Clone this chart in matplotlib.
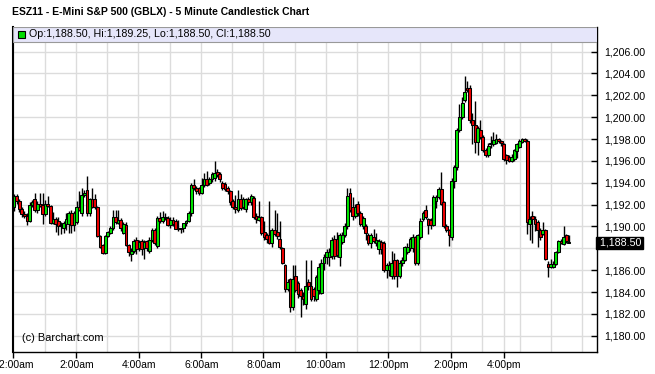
import matplotlib
matplotlib.use("Agg")
import matplotlib.pyplot as plt
from matplotlib.patches import Rectangle

plt.rcParams['font.family'] = ['Liberation Sans', 'DejaVu Sans']

title = "ESZ11 - E-Mini S&P 500 (GBLX) - 5 Minute Candlestick Chart"
legend_text = "Op:1,188.50, Hi:1,189.25, Lo:1,188.50, Cl:1,188.50"
last_price = 1188.50

opens = [1191.8, 1192.8, 1192.3, 1191.6, 1191.1, 1191.0, 1190.5, 1192.0, 1192.5, 1191.5,
         1192.1, 1192.0, 1191.1, 1192.1, 1191.9, 1190.3, 1190.7, 1190.5, 1190.0, 1189.9,
         1190.2, 1190.2, 1191.2, 1190.1, 1190.4, 1191.8, 1191.2, 1192.9, 1193.3, 1191.2,
         1192.5, 1192.5, 1191.8, 1189.1, 1188.3, 1187.6, 1189.1, 1189.4, 1189.9, 1190.9,
         1190.3, 1190.6, 1189.4, 1190.1, 1188.3, 1187.5, 1187.8, 1188.8, 1188.0, 1188.7,
         1188.0, 1188.7, 1187.8, 1188.8, 1189.7, 1188.2, 1190.8, 1190.5, 1190.9, 1190.8,
         1190.1, 1190.6, 1190.5, 1189.8, 1189.8, 1189.9, 1190.3, 1190.5, 1191.2, 1193.8,
         1193.5, 1193.5, 1193.1, 1193.8, 1194.3, 1194.0, 1194.3, 1194.4, 1195.0, 1194.8,
         1194.0, 1193.9, 1193.5, 1193.2, 1192.3, 1191.8, 1191.5, 1192.5, 1191.8, 1191.6,
         1192.5, 1192.2, 1192.6, 1191.0, 1190.6, 1190.9, 1189.5, 1189.2, 1189.2, 1188.5,
         1189.7, 1189.5, 1188.9, 1188.0, 1186.5, 1184.3, 1185.2, 1182.6, 1185.5, 1184.8,
         1184.2, 1183.6, 1182.9, 1184.9, 1184.6, 1184.3, 1183.4, 1184.2, 1183.9, 1186.7,
         1187.2, 1187.2, 1187.3, 1188.9, 1188.9, 1187.2, 1188.6, 1189.2, 1190.0, 1193.1,
         1191.8, 1191.0, 1192.1, 1191.2, 1190.0, 1190.0, 1189.2, 1188.5, 1189.0, 1188.5,
         1187.9, 1188.6, 1188.5, 1186.0, 1186.0, 1185.5, 1186.9, 1186.9, 1185.5, 1186.7,
         1186.9, 1187.7, 1188.0, 1188.0, 1189.0, 1186.7, 1189.0, 1190.7, 1191.5, 1190.7,
         1190.6, 1190.1, 1192.3, 1192.7, 1193.4, 1192.2, 1190.0, 1189.7, 1189.0, 1194.2,
         1195.4, 1198.8, 1200.0, 1201.6, 1202.7, 1202.7, 1199.7, 1199.3, 1197.7, 1198.8,
         1198.2, 1197.0, 1196.5, 1197.6, 1197.5, 1197.6, 1198.0, 1197.8, 1197.5, 1196.5,
         1196.4, 1196.0, 1196.2, 1196.9, 1197.3, 1197.7, 1198.0, 1197.8, 1190.2, 1191.0,
         1190.7, 1190.4, 1189.7, 1189.3, 1189.7, 1186.6, 1186.3, 1186.3, 1186.6, 1187.7,
         1188.7, 1188.4, 1189.2, 1188.5]
highs = [1193.0, 1193.0, 1192.5, 1191.8, 1191.4, 1191.2, 1192.2, 1192.4, 1193.1, 1192.3,
         1193.1, 1193.1, 1192.4, 1192.8, 1192.0, 1191.3, 1190.9, 1190.9, 1190.4, 1190.5,
         1191.2, 1191.4, 1191.5, 1191.4, 1192.3, 1193.2, 1193.5, 1193.3, 1194.6, 1192.6,
         1193.5, 1193.0, 1191.9, 1189.2, 1188.4, 1189.2, 1189.6, 1190.0, 1191.5, 1191.5,
         1191.5, 1190.8, 1190.4, 1190.4, 1188.4, 1188.0, 1188.9, 1189.0, 1188.8, 1188.9,
         1188.8, 1188.8, 1189.0, 1189.9, 1189.9, 1191.0, 1191.3, 1191.4, 1191.2, 1191.0,
         1190.9, 1190.9, 1190.7, 1190.6, 1189.9, 1190.1, 1190.6, 1191.4, 1194.0, 1194.3,
         1193.7, 1193.6, 1194.4, 1194.9, 1195.1, 1194.5, 1195.0, 1196.0, 1195.3, 1195.0,
         1194.2, 1194.1, 1193.7, 1193.3, 1192.5, 1192.9, 1193.3, 1193.0, 1192.7, 1192.6,
         1192.7, 1193.0, 1192.8, 1191.2, 1192.3, 1191.0, 1190.5, 1189.4, 1192.3, 1189.9,
         1191.5, 1191.2, 1190.5, 1188.1, 1186.6, 1185.2, 1185.3, 1186.5, 1186.5, 1185.0,
         1184.4, 1184.0, 1186.9, 1185.2, 1186.9, 1184.5, 1185.6, 1186.7, 1187.0, 1187.5,
         1187.9, 1188.0, 1189.0, 1189.2, 1189.5, 1189.4, 1189.5, 1190.3, 1193.5, 1193.5,
         1192.7, 1192.1, 1192.3, 1191.4, 1191.0, 1190.2, 1189.4, 1189.4, 1189.8, 1189.4,
         1188.9, 1188.8, 1188.7, 1186.7, 1186.8, 1187.8, 1187.6, 1187.0, 1186.9, 1187.2,
         1188.2, 1188.5, 1189.0, 1189.3, 1189.1, 1189.3, 1190.8, 1191.4, 1192.0, 1190.8,
         1190.8, 1192.9, 1192.9, 1193.6, 1195.0, 1192.3, 1190.2, 1189.8, 1194.4, 1195.6,
         1199.0, 1201.2, 1201.8, 1203.8, 1203.3, 1202.9, 1200.4, 1201.5, 1199.2, 1199.7,
         1198.4, 1197.2, 1197.6, 1198.3, 1198.6, 1198.5, 1198.1, 1197.9, 1197.6, 1196.6,
         1196.5, 1196.6, 1197.1, 1197.6, 1198.0, 1198.1, 1198.1, 1198.0, 1191.0, 1191.4,
         1191.0, 1190.6, 1189.9, 1190.4, 1189.8, 1186.8, 1187.0, 1186.8, 1187.8, 1188.8,
         1188.9, 1190.0, 1189.3, 1189.25]
lows = [1191.4, 1192.1, 1191.3, 1190.9, 1190.8, 1190.1, 1190.4, 1191.8, 1191.3, 1191.2,
        1191.8, 1190.2, 1191.0, 1191.8, 1190.2, 1190.2, 1189.5, 1189.2, 1189.3, 1189.4,
        1189.7, 1189.4, 1189.4, 1189.6, 1190.2, 1191.4, 1191.0, 1192.7, 1191.0, 1191.0,
        1191.7, 1191.6, 1189.0, 1188.0, 1187.5, 1187.5, 1189.0, 1189.3, 1189.7, 1190.2,
        1190.2, 1189.6, 1189.3, 1188.2, 1187.3, 1186.8, 1187.6, 1187.5, 1187.8, 1187.4,
        1187.0, 1187.8, 1187.6, 1188.6, 1188.3, 1188.0, 1190.3, 1190.3, 1190.6, 1190.0,
        1189.9, 1190.0, 1190.0, 1189.6, 1189.4, 1189.5, 1190.0, 1190.4, 1191.0, 1193.3,
        1193.0, 1192.9, 1193.0, 1193.6, 1193.7, 1193.8, 1194.1, 1194.2, 1194.5, 1194.1,
        1193.3, 1193.2, 1193.0, 1192.0, 1191.6, 1191.2, 1191.3, 1191.5, 1191.6, 1191.3,
        1192.0, 1192.0, 1190.7, 1190.3, 1190.5, 1189.2, 1188.8, 1188.5, 1188.4, 1188.1,
        1189.1, 1188.9, 1187.9, 1186.6, 1184.0, 1184.1, 1182.2, 1182.4, 1184.0, 1183.5,
        1181.7, 1182.8, 1182.5, 1184.2, 1183.2, 1183.2, 1183.2, 1183.8, 1183.8, 1186.0,
        1186.6, 1186.4, 1187.0, 1187.0, 1187.2, 1186.4, 1188.4, 1189.0, 1189.8, 1191.3,
        1190.6, 1190.8, 1191.0, 1190.0, 1189.8, 1188.8, 1188.3, 1188.0, 1188.5, 1188.2,
        1187.5, 1187.5, 1185.8, 1185.3, 1185.5, 1185.2, 1185.2, 1184.5, 1185.3, 1186.4,
        1186.8, 1187.5, 1187.8, 1187.7, 1186.5, 1186.5, 1188.9, 1190.5, 1190.7, 1189.3,
        1189.8, 1190.0, 1191.7, 1192.5, 1192.0, 1189.9, 1189.5, 1188.2, 1188.8, 1193.5,
        1195.2, 1198.6, 1199.8, 1201.4, 1202.3, 1199.5, 1197.5, 1196.7, 1196.5, 1198.0,
        1196.8, 1196.4, 1196.4, 1197.2, 1197.4, 1197.5, 1197.6, 1197.4, 1196.0, 1195.7,
        1195.9, 1195.9, 1196.0, 1196.3, 1197.2, 1197.6, 1197.7, 1189.3, 1188.8, 1188.5,
        1189.6, 1188.1, 1188.8, 1189.2, 1186.9, 1185.4, 1186.2, 1186.2, 1186.5, 1187.6,
        1188.4, 1188.3, 1188.5, 1188.5]
closes = [1192.8, 1192.3, 1191.6, 1191.1, 1191.0, 1190.5, 1192.0, 1192.2, 1191.5, 1192.1,
          1191.9, 1191.1, 1192.1, 1191.9, 1190.3, 1190.7, 1190.2, 1190.0, 1190.1, 1190.3,
          1190.7, 1191.2, 1190.1, 1191.2, 1191.8, 1191.5, 1192.9, 1193.1, 1191.2, 1192.5,
          1191.8, 1191.8, 1189.1, 1188.1, 1187.6, 1189.1, 1189.5, 1189.9, 1190.9, 1190.4,
          1190.6, 1189.9, 1190.2, 1188.3, 1187.7, 1187.8, 1188.7, 1187.9, 1188.6, 1187.9,
          1188.6, 1188.0, 1188.8, 1189.7, 1188.5, 1190.8, 1190.5, 1190.9, 1190.8, 1190.1,
          1190.6, 1190.2, 1189.8, 1189.8, 1189.9, 1190.3, 1190.5, 1191.2, 1193.8, 1193.5,
          1193.2, 1193.1, 1193.8, 1194.3, 1193.8, 1194.3, 1194.8, 1194.9, 1194.7, 1194.3,
          1193.5, 1193.4, 1193.2, 1192.2, 1191.8, 1191.6, 1192.5, 1191.7, 1192.5, 1192.5,
          1192.2, 1192.8, 1190.9, 1190.7, 1190.9, 1189.4, 1189.0, 1188.9, 1188.5, 1189.7,
          1189.3, 1189.1, 1188.1, 1186.7, 1184.3, 1184.9, 1182.6, 1185.2, 1184.2, 1183.8,
          1183.6, 1183.4, 1184.6, 1184.6, 1183.4, 1183.6, 1185.4, 1186.3, 1186.7, 1187.2,
          1187.7, 1187.7, 1188.8, 1187.3, 1187.4, 1189.2, 1189.2, 1190.0, 1192.8, 1191.5,
          1191.0, 1191.8, 1191.2, 1190.2, 1190.8, 1189.4, 1188.5, 1189.2, 1188.7, 1188.8,
          1188.7, 1187.9, 1186.0, 1186.5, 1186.5, 1186.7, 1185.5, 1185.5, 1186.7, 1186.9,
          1188.1, 1188.1, 1188.9, 1189.0, 1186.7, 1189.2, 1190.5, 1191.2, 1190.9, 1190.1,
          1190.1, 1192.7, 1192.7, 1193.4, 1192.1, 1190.0, 1189.7, 1189.2, 1194.2, 1195.4,
          1198.8, 1200.0, 1201.3, 1202.3, 1202.5, 1199.7, 1199.3, 1197.7, 1199.0, 1198.2,
          1197.0, 1196.5, 1197.4, 1197.5, 1197.9, 1198.0, 1197.8, 1197.6, 1196.2, 1196.1,
          1196.0, 1196.4, 1197.0, 1197.5, 1197.8, 1198.0, 1197.8, 1190.4, 1190.7, 1190.7,
          1190.2, 1189.7, 1189.0, 1189.7, 1187.0, 1186.3, 1186.6, 1186.6, 1187.7, 1188.7,
          1188.5, 1189.0, 1188.7, 1188.5]

tick_labels = ["12:00am", "2:00am", "4:00am", "6:00am", "8:00am", "10:00am",
               "12:00pm", "2:00pm", "4:00pm"]
tick_slots = [-0.3, 23.9, 47.9, 71.9, 95.7, 119.7, 143.7, 167.6, 188.2]
grid_slots = [-0.3 + 12 * k for k in range(16)] + [188.2, 194.2, 206.2, 218.2]
price_ticks = [1180, 1182, 1184, 1186, 1190, 1192, 1194, 1196, 1198, 1200, 1202, 1204, 1206]
grid_prices = list(range(1180, 1208, 2))

UP = '#00e600'
DOWN = '#ee0000'

W, H = 655, 374
fig = plt.figure(figsize=(W / 100, H / 100), dpi=100)
fig.patch.set_facecolor('white')
L, R, T, B = 13, 597, 26.7, 351.7
ax = fig.add_axes([L / W, (H - B) / H, (R - L) / W, (B - T) / H])
ax.set_xlim(-0.4, 223.8)
ax.set_ylim(1178.55, 1208.27)

for g in grid_prices:
    ax.axhline(g, color='#dcdcdc', lw=1, zorder=0)
for g in grid_slots:
    ax.axvline(g, color='#dcdcdc', lw=1, zorder=0)

xs = list(range(len(closes)))
ax.vlines(xs, lows, highs, color='black', lw=1, zorder=2)
bottoms = [min(o, c) for o, c in zip(opens, closes)]
heights = [max(abs(c - o), 0.04) for o, c in zip(opens, closes)]
colors = [UP if c >= o else DOWN for o, c in zip(opens, closes)]
ax.bar(xs, heights, bottom=bottoms, width=1.1, color=colors,
       edgecolor='black', linewidth=0.75, zorder=3)

# legend band
ax.add_patch(Rectangle((0, 1 - 15 / (B - T)), 1, 15 / (B - T), transform=ax.transAxes,
                       facecolor='#e6e6fa', edgecolor='#999999', lw=0.8, zorder=5))
ax.add_patch(Rectangle((5 / (R - L), 1 - 11 / (B - T)), 7 / (R - L), 7 / (B - T),
                       transform=ax.transAxes, facecolor='#00dd00', edgecolor='black',
                       lw=0.8, zorder=6))
ax.text(16 / (R - L), 1 - 7.5 / (B - T), legend_text, transform=ax.transAxes,
        fontsize=7.7, va='center', ha='left', zorder=6)

ax.text(9 / (R - L), 14 / (B - T), "(c) Barchart.com", transform=ax.transAxes,
        fontsize=7.9, va='center', ha='left', zorder=6)

fig.text(12 / W, 1 - 12 / H, title, fontsize=7.5, fontweight='bold', va='center', ha='left')

ax.yaxis.tick_right()
ax.set_yticks(price_ticks)
ax.set_yticklabels(["{:,.2f}".format(p) for p in price_ticks])
ax.tick_params(axis='y', direction='in', length=4, width=1, labelsize=7.7, pad=5)
ax.set_xticks(tick_slots)
ax.set_xticklabels(tick_labels)
ax.tick_params(axis='x', direction='out', length=4, width=1, labelsize=7.5, pad=2)

ax.text(1.0, last_price, " {:,.2f}".format(last_price), transform=ax.get_yaxis_transform(),
        fontsize=7.7, color='white', va='center', ha='left',
        bbox=dict(facecolor='black', edgecolor='black', pad=1.0), zorder=7)

for s in ['left', 'bottom', 'right']:
    ax.spines[s].set_color('black')
    ax.spines[s].set_linewidth(1)
ax.spines['left'].set_linewidth(1.5)
ax.spines['top'].set_visible(False)

fig.savefig('out.png', dpi=100, facecolor='white')
